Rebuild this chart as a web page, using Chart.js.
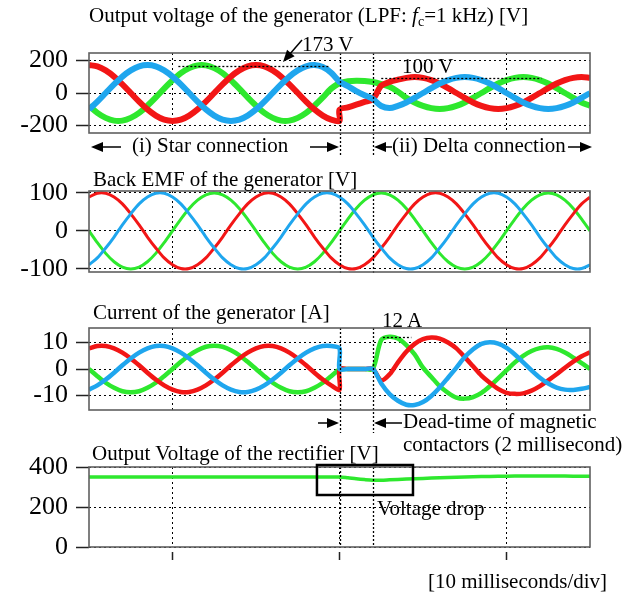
<!DOCTYPE html>
<html>
<head>
<meta charset="utf-8">
<title>Generator waveforms</title>
<script src="https://cdn.jsdelivr.net/npm/chart.js@4.4.1/dist/chart.umd.min.js"></script>
<style>
  body { margin: 0; background: #fff; }
  #fig { position: relative; width: 638px; height: 596px; overflow: hidden;
         font-family: "Liberation Serif", "Times New Roman", serif; color: #000; }
  #fig canvas { position: absolute; left: 0; }
  .t { position: absolute; font-size: 21px; line-height: 21px; white-space: nowrap; }
  .sub { font-size: 14px; position: relative; top: 4px; }
</style>
</head>
<body>
<div id="fig">
  <canvas id="cOut" width="638" height="160" style="top:0px"></canvas>
  <canvas id="cEmf" width="638" height="120" style="top:160px"></canvas>
  <canvas id="cCur" width="638" height="160" style="top:280px"></canvas>
  <canvas id="cDc" width="638" height="156" style="top:440px"></canvas>

  <div class="t" style="left:89px;top:5px">Output voltage of the generator (LPF: <i>f</i><span class="sub">c</span>=1 kHz) [V]</div>
  <div class="t" style="left:302px;top:34px">173 V</div>
  <div class="t" style="left:402px;top:56px">100 V</div>
  <div class="t" style="left:132px;top:135px">(i) Star connection</div>
  <div class="t" style="left:392px;top:135px">(ii) Delta connection</div>
  <div class="t" style="left:93px;top:169px">Back EMF of the generator [V]</div>
  <div class="t" style="left:93px;top:302px">Current of the generator [A]</div>
  <div class="t" style="left:382px;top:310px">12 A</div>
  <div class="t" style="left:403px;top:411px">Dead-time of magnetic</div>
  <div class="t" style="left:403px;top:434px">contactors (2 millisecond)</div>
  <div class="t" style="left:92px;top:443px">Output Voltage of the rectifier [V]</div>
  <div class="t" style="left:377px;top:498px">Voltage drop</div>
  <div class="t" style="left:428px;top:571px">[10 milliseconds/div]</div>
</div>
<script>
// time base in ms (15 ms appears twice: switch from star to dead-time)
var T_SW = [0,0.5,1,1.5,2,2.5,3,3.5,4,4.5,5,5.5,6,6.5,7,7.5,8,8.5,9,9.5,10,10.5,11,11.5,12,12.5,13,13.5,14,14.5,15,
            15,15.5,16,16.5,17,17.5,18,18.5,19,19.5,20,20.5,21,21.5,22,22.5,23,23.5,24,24.5,25,25.5,26,26.5,27,27.5,28,28.5,29,29.5,30];
var T_EMF = [0,0.5,1,1.5,2,2.5,3,3.5,4,4.5,5,5.5,6,6.5,7,7.5,8,8.5,9,9.5,10,10.5,11,11.5,12,12.5,13,13.5,14,14.5,15,
             15.5,16,16.5,17,17.5,18,18.5,19,19.5,20,20.5,21,21.5,22,22.5,23,23.5,24,24.5,25,25.5,26,26.5,27,27.5,28,28.5,29,29.5,30];
var T_DC = [0,5,10,15,15.5,16,16.5,17,17.5,18,19,20,21,22,23,24,25,26,27,28,29,30];
var DEAD_TIME = [15, 17];

// output voltage of the generator [V]
var V_RED = [172,164,139,101,53,0,-53,-101,-139,-164,-172,-164,-139,-101,-53,0,53,101,139,164,172,164,139,101,53,0,-53,-101,-139,-164,-172,
             -103,-88,-72,-55,-37,
             45,68,82,93,98,93,79,58,30,0,-30,-58,-79,-93,-98,-93,-79,-58,-30,0,30,58,79,93,98,93];
var V_BLUE = [-101,-53,0,53,101,139,164,172,164,139,101,53,0,-53,-101,-139,-164,-172,-164,-139,-101,-53,0,53,101,139,164,172,160,125,68,
              68,42,12,-14,-37,
              -80,-93,-79,-58,-30,0,30,58,79,93,98,93,79,58,30,0,-30,-58,-79,-93,-98,-93,-79,-58,-30,0];
var V_GREEN = [-78,-122,-153,-170,-170,-153,-122,-78,-27,27,78,122,153,170,170,153,122,78,27,-27,-78,-122,-153,-170,-170,-153,-122,-78,-27,27,62,
               62,72,76,74,68,
               55,38,8,-30,-58,-79,-93,-98,-93,-79,-58,-30,0,30,58,79,93,98,93,79,58,30,0,-30,-58,-79];

// back EMF [V]
var E_RED = [89,99,99,89,71,45,16,-16,-45,-71,-89,-99,-99,-89,-71,-45,-16,16,45,71,
             89,99,99,89,71,45,16,-16,-45,-71,-89,-99,-99,-89,-71,-45,-16,16,45,71,
             89,99,99,89,71,45,16,-16,-45,-71,-89,-99,-99,-89,-71,-45,-16,16,45,71,89];
var E_BLUE = [-89,-71,-45,-16,16,45,71,89,99,99,89,71,45,16,-16,-45,-71,-89,-99,-99,
              -89,-71,-45,-16,16,45,71,89,99,99,89,71,45,16,-16,-45,-71,-89,-99,-99,
              -89,-71,-45,-16,16,45,71,89,99,99,89,71,45,16,-16,-45,-71,-89,-99,-99,-89];
var E_GREEN = [0,-31,-59,-81,-95,-100,-95,-81,-59,-31,0,31,59,81,95,100,95,81,59,31,
               0,-31,-59,-81,-95,-100,-95,-81,-59,-31,0,31,59,81,95,100,95,81,59,31,
               0,-31,-59,-81,-95,-100,-95,-81,-59,-31,0,31,59,81,95,100,95,81,59,31,0];

// current of the generator [A]
var I_RED = [7.8,8.7,8.7,7.8,6.2,4.0,1.4,-1.4,-4.0,-6.2,-7.8,-8.7,-8.7,-7.8,-6.2,-4.0,-1.4,1.4,4.0,6.2,7.8,8.7,8.7,7.8,6.2,4.0,1.4,-1.4,-4.0,-6.2,-7.8,
             0,0,0,0,0,
             -4.3,-2,2.5,6.5,9.5,11.3,11.9,11.5,10,7.8,4.5,1,-2.5,-5.2,-7.5,-9,-9.4,-9.2,-8.2,-6.5,-4.3,-2,0.5,2.8,4.8,6.3];
var I_BLUE = [-7.8,-6.2,-4.0,-1.4,1.4,4.0,6.2,7.8,8.7,8.7,7.8,6.2,4.0,1.4,-1.4,-4.0,-6.2,-7.8,-8.7,-8.7,-7.8,-6.2,-4.0,-1.4,1.4,4.0,6.2,7.8,8.7,8.7,7.8,
              0,0,0,0,0,
              -5.5,-9.5,-12,-13.5,-13.6,-12.5,-10.2,-7,-3.3,0.5,4.5,7.5,9.5,10.1,9.6,8,5.5,2.5,-0.5,-3.3,-5.5,-7,-7.8,-7.9,-7.5,-6.8];
var I_GREEN = [0,-2.7,-5.2,-7.1,-8.4,-8.8,-8.4,-7.1,-5.2,-2.7,0,2.7,5.2,7.1,8.4,8.8,8.4,7.1,5.2,2.7,0,-2.7,-5.2,-7.1,-8.4,-8.8,-8.4,-7.1,-5.2,-2.7,0,
               0,0,0,0,0,
               11,12.2,11.5,9,5.5,0.5,-3,-6.5,-9,-10.8,-11.2,-10.6,-9,-6.5,-3.5,-0.5,2.5,5,6.8,7.9,8.2,7.6,6.2,4.3,2.2,0];

// output voltage of the rectifier [V]
var V_DC = [350,350,350,350,346,341,337,334,334,336,340,343,346,349,351,353,354,355,355,355,354,354];

// axis ticks
var TICKS_OUT = [-200, 0, 200];
var TICKS_EMF = [-100, 0, 100];
var TICKS_CUR = [-10, 0, 10];
var TICKS_DC = [0, 200, 400];

var RED = '#f21616', GREEN = '#2ee82e', BLUE = '#1fa6ee';

function line(t, v, color, w) {
  return {
    data: t.map(function (x, i) { return { x: x, y: v[i] }; }),
    borderColor: color, borderWidth: w, pointRadius: 0, tension: 0.3, fill: false
  };
}

function arrow(ctx, x1, y1, x2, y2) {
  var a = Math.atan2(y2 - y1, x2 - x1), L = 12, W = 5;
  ctx.beginPath();
  ctx.moveTo(x1, y1);
  ctx.lineTo(x2 - L * 0.8 * Math.cos(a), y2 - L * 0.8 * Math.sin(a));
  ctx.stroke();
  ctx.beginPath();
  ctx.moveTo(x2, y2);
  ctx.lineTo(x2 - L * Math.cos(a) + W * Math.sin(a), y2 - L * Math.sin(a) - W * Math.cos(a));
  ctx.lineTo(x2 - L * Math.cos(a) - W * Math.sin(a), y2 - L * Math.sin(a) + W * Math.cos(a));
  ctx.closePath();
  ctx.fill();
}

function hline(ctx, x1, x2, y) {
  ctx.beginPath();
  ctx.moveTo(x1, Math.round(y) + 0.5);
  ctx.lineTo(x2, Math.round(y) + 0.5);
  ctx.stroke();
}

// panel frame + dotted dead-time lines
function framePlugin(ext) {
  return {
    id: 'frame',
    afterDatasetsDraw: function (chart) {
      var ctx = chart.ctx, a = chart.chartArea, x = chart.scales.x;
      ctx.save();
      ctx.strokeStyle = '#000';
      ctx.lineWidth = 1.3;
      ctx.setLineDash([2, 2]);
      DEAD_TIME.forEach(function (v) {
        var px = Math.round(x.getPixelForValue(v)) + 0.5;
        ctx.beginPath();
        ctx.moveTo(px, a.top);
        ctx.lineTo(px, a.bottom + ext);
        ctx.stroke();
      });
      ctx.setLineDash([]);
      ctx.strokeStyle = '#606060';
      ctx.lineWidth = 1.6;
      ctx.strokeRect(a.left, a.top, a.right - a.left, a.bottom - a.top);
      ctx.restore();
    }
  };
}

function panel(id, datasets, c) {
  return new Chart(document.getElementById(id), {
    type: 'line',
    data: { datasets: datasets },
    options: {
      responsive: false,
      animation: false,
      devicePixelRatio: 1,
      layout: { padding: { left: 0, right: 48, top: c.top, bottom: c.bottom } },
      plugins: { legend: { display: false }, tooltip: { enabled: false } },
      scales: {
        x: {
          type: 'linear', min: 0, max: 30,
          ticks: { display: false },
          border: { display: false, dash: [2, 3] },
          grid: { color: '#000', lineWidth: 1, drawTicks: !!c.xTicks, tickLength: 13,
                  tickBorderDash: [0, 5, 8, 40], tickColor: '#222', tickWidth: 1.5 },
          afterBuildTicks: function (s) { s.ticks = c.xGrid.map(function (v) { return { value: v }; }); },
          afterFit: function (s) { s.height = 0; s.paddingLeft = 0; s.paddingRight = 0; }
        },
        y: {
          min: c.min, max: c.max,
          ticks: { color: '#000', padding: 8, font: { family: 'Liberation Serif', size: 26 } },
          border: { display: false, dash: [2, 3] },
          grid: { color: '#000', lineWidth: 1, drawTicks: true, tickLength: 13,
                  tickColor: '#222', tickWidth: 1.5, tickBorderDash: [] },
          afterBuildTicks: function (s) { s.ticks = c.yTicks.map(function (v) { return { value: v }; }); },
          afterFit: function (s) { s.width = 89; s.paddingTop = 0; s.paddingBottom = 0; }
        }
      }
    },
    plugins: [framePlugin(c.ext), c.extra || { id: 'none' }]
  });
}

panel('cOut', [
  line(T_SW, V_BLUE, BLUE, 6),
  line(T_SW, V_RED, RED, 6),
  line(T_SW, V_GREEN, GREEN, 6)
], {
  top: 53, bottom: 27, min: -246, max: 246, yTicks: TICKS_OUT, xGrid: [5, 25], ext: 22,
  extra: {
    id: 'annOut',
    afterDatasetsDraw: function (chart) {
      var ctx = chart.ctx, x = chart.scales.x, y = chart.scales.y;
      ctx.save();
      ctx.strokeStyle = '#000';
      ctx.fillStyle = '#000';
      ctx.lineWidth = 1.3;
      ctx.setLineDash([2, 2]);
      hline(ctx, x.getPixelForValue(5.35), x.getPixelForValue(14.4), y.getPixelForValue(168));
      hline(ctx, x.getPixelForValue(17.5), x.getPixelForValue(27.1), y.getPixelForValue(95));
      ctx.setLineDash([]);
      ctx.lineWidth = 1.5;
      arrow(ctx, 302, 40, 283, 62);
      arrow(ctx, 121, 147, 91, 147);
      arrow(ctx, 310, 147, 339, 147);
      arrow(ctx, 392, 147, 374, 147);
      arrow(ctx, 568, 147, 592, 147);
      ctx.restore();
    }
  }
});

panel('cEmf', [
  line(T_EMF, E_BLUE, BLUE, 3),
  line(T_EMF, E_RED, RED, 3),
  line(T_EMF, E_GREEN, GREEN, 3)
], { top: 31, bottom: 8, min: -108, max: 105, yTicks: TICKS_EMF, xGrid: [5, 25], ext: 3 });

panel('cCur', [
  line(T_SW, I_BLUE, BLUE, 4.5),
  line(T_SW, I_RED, RED, 4.5),
  line(T_SW, I_GREEN, GREEN, 4.5)
], {
  top: 48, bottom: 30, min: -15.5, max: 15.5, yTicks: TICKS_CUR, xGrid: [5, 25], ext: 23,
  extra: {
    id: 'annCur',
    afterDatasetsDraw: function (chart) {
      var ctx = chart.ctx, x = chart.scales.x, y = chart.scales.y;
      ctx.save();
      ctx.strokeStyle = '#000';
      ctx.fillStyle = '#000';
      ctx.lineWidth = 1.3;
      ctx.setLineDash([2, 2]);
      hline(ctx, x.getPixelForValue(17.6), x.getPixelForValue(19.3), y.getPixelForValue(12));
      ctx.setLineDash([]);
      ctx.lineWidth = 1.5;
      arrow(ctx, 318, 143, 339, 143);
      arrow(ctx, 402, 143, 374, 143);
      ctx.restore();
    }
  }
});

panel('cDc', [
  line(T_DC, V_DC, GREEN, 3.5)
], {
  top: 27, bottom: 49, min: 0, max: 400, yTicks: TICKS_DC, xGrid: [5, 15, 25], xTicks: true, ext: 0,
  extra: {
    id: 'annDc',
    afterDatasetsDraw: function (chart) {
      var ctx = chart.ctx, x = chart.scales.x, y = chart.scales.y;
      var x1 = x.getPixelForValue(13.65), x2 = x.getPixelForValue(19.4);
      var y1 = y.getPixelForValue(410), y2 = y.getPixelForValue(260);
      ctx.save();
      ctx.strokeStyle = '#000';
      ctx.lineWidth = 2.5;
      ctx.strokeRect(x1, y1, x2 - x1, y2 - y1);
      ctx.restore();
    }
  }
});
</script>
</body>
</html>
